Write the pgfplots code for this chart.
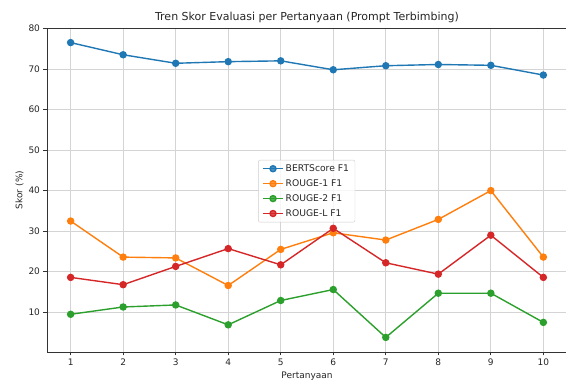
\documentclass[border=0pt]{standalone}
\usepackage{pgfplots}
\pgfplotsset{compat=1.18}
\usepackage{fontspec}
\setmainfont{DejaVu Sans}
\definecolor{c1}{HTML}{1F77B4}
\definecolor{c2}{HTML}{FF7F0E}
\definecolor{c3}{HTML}{2CA02C}
\definecolor{c4}{HTML}{D62728}
\definecolor{txt}{HTML}{262626}
\begin{document}
\begin{tikzpicture}[x=1pt,y=1pt]
\path[use as bounding box] (-47,-31) rectangle (519,352);
\begin{axis}[
  at={(0,0)}, anchor=south west,
  scale only axis, width=520pt, height=324pt,
  xmin=0.55, xmax=10.45, ymin=0.2, ymax=80.1,
  xtick={1,...,10}, ytick={10,20,...,80},
  tick align=outside, tick pos=left,
  major tick length=3.5pt,
  grid=major,
  major grid style={draw=black!17, line width=0.7pt},
  axis line style={draw=black!80, line width=0.8pt},
  tick style={draw=black!80, line width=0.7pt},
  ticklabel style={font=\fontsize{9}{10}\selectfont, text=txt},
  /pgf/number format/assume math mode=true,
  title={Tren Skor Evaluasi per Pertanyaan (Prompt Terbimbing)},
  title style={font=\fontsize{11}{13}\selectfont, text=txt, yshift=-4pt},
  xlabel={Pertanyaan}, ylabel={Skor (\%)},
  label style={font=\fontsize{9}{10}\selectfont, text=txt},
  xlabel style={yshift=1pt},
  ylabel style={yshift=-2pt},
  legend style={at={(0.406,0.593)}, anchor=north west,
    font=\fontsize{9.2}{10}\selectfont, text=txt,
    draw=black!20, rounded corners=2pt, fill=white, fill opacity=0.8, text opacity=1,
    inner xsep=4pt, inner ysep=2.5pt, row sep=2.6pt},
  legend cell align=left,
  legend image code/.code={%
    \draw[line width=1.4pt, mark=none] (0pt,0pt) -- (20pt,0pt);
    \fill (10pt,0pt) circle (3pt);},
  every axis plot/.append style={line width=1.4pt, mark=*, mark size=3pt},
]
\addplot[c1, mark options={fill=c1, draw=c1}] coordinates {(1,76.5)(2,73.5)(3,71.4)(4,71.8)(5,72.0)(6,69.8)(7,70.8)(8,71.1)(9,70.9)(10,68.5)};
\addlegendentry{BERTScore F1}
\addplot[c2, mark options={fill=c2, draw=c2}] coordinates {(1,32.5)(2,23.6)(3,23.4)(4,16.6)(5,25.5)(6,29.6)(7,27.8)(8,32.9)(9,40.0)(10,23.6)};
\addlegendentry{ROUGE-1 F1}
\addplot[c3, mark options={fill=c3, draw=c3}] coordinates {(1,9.5)(2,11.3)(3,11.8)(4,6.9)(5,12.9)(6,15.6)(7,3.8)(8,14.7)(9,14.7)(10,7.5)};
\addlegendentry{ROUGE-2 F1}
\addplot[c4, mark options={fill=c4, draw=c4}] coordinates {(1,18.6)(2,16.8)(3,21.3)(4,25.7)(5,21.7)(6,30.7)(7,22.2)(8,19.4)(9,29.0)(10,18.6)};
\addlegendentry{ROUGE-L F1}
\end{axis}
\end{tikzpicture}
\end{document}
